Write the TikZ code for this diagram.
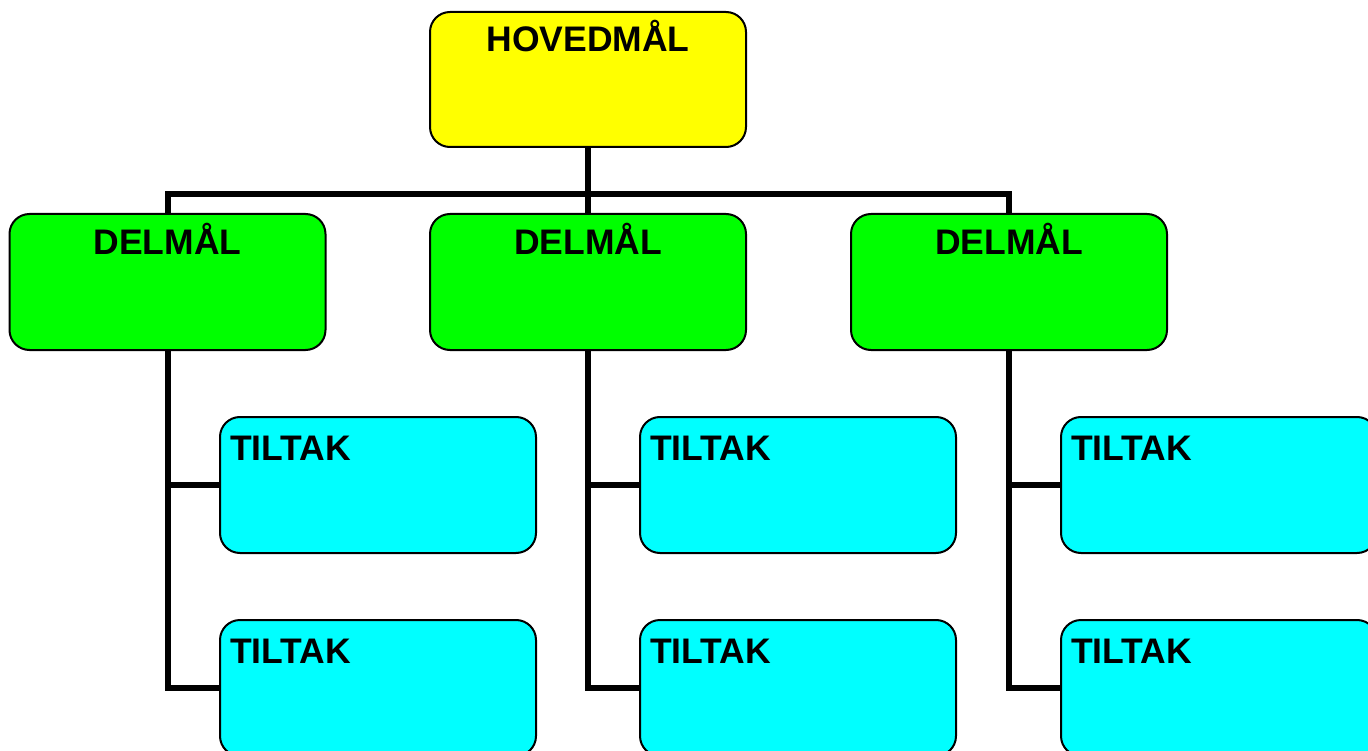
\documentclass[tikz,border=0pt]{standalone}
\usepackage{fontspec}
\setmainfont{Liberation Sans}
\usetikzlibrary{backgrounds}
\definecolor{hyellow}{RGB}{255,255,0}
\definecolor{dgreen}{RGB}{0,255,0}
\definecolor{tcyan}{RGB}{0,255,255}
\begin{document}
\begin{tikzpicture}[x=1pt,y=-1pt,
  box/.style={draw=black,line width=2pt,rounded corners=20pt,minimum width=316pt,
    inner ysep=0pt,font=\fontsize{35.5}{40}\selectfont\bfseries},
  topbox/.style={box,fill=hyellow,text height=40pt,text depth=95pt,inner xsep=0pt},
  delbox/.style={box,fill=dgreen,text height=41pt,text depth=95pt,inner xsep=0pt},
  tilbox/.style={box,fill=tcyan,text height=43pt,text depth=93pt,inner xsep=10pt,text width=296pt,align=left},
  conn/.style={line width=6pt,draw=black}]
\useasboundingbox (0,0) rectangle (1368,751);
\node[topbox] (h) at (588,79.5) {HOVEDMÅL};
\node[delbox] (d1) at (167.5,282) {DELMÅL};
\node[delbox] (d2) at (588,282) {DELMÅL};
\node[delbox] (d3) at (1009,282) {DELMÅL};
\node[tilbox] (t1a) at (378,485) {TILTAK};
\node[tilbox] (t1b) at (378,688) {TILTAK};
\node[tilbox] (t2a) at (798,485) {TILTAK};
\node[tilbox] (t2b) at (798,688) {TILTAK};
\node[tilbox] (t3a) at (1219,485) {TILTAK};
\node[tilbox] (t3b) at (1219,688) {TILTAK};
\begin{scope}[on background layer]
\draw[conn] (h.south) -- (d2.north);
\draw[conn] (d1.north) -- ++(0,-19) -| (d3.north);
\draw[conn] (d1.south) |- (t1a.west);
\draw[conn] (d1.south) |- (t1b.west);
\draw[conn] (d2.south) |- (t2a.west);
\draw[conn] (d2.south) |- (t2b.west);
\draw[conn] (d3.south) |- (t3a.west);
\draw[conn] (d3.south) |- (t3b.west);
\end{scope}
\end{tikzpicture}
\end{document}
